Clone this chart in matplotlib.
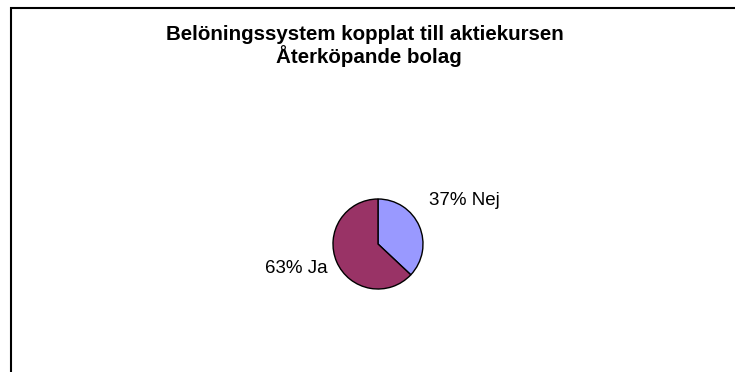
import matplotlib.pyplot as plt
from matplotlib.patches import Rectangle

plt.rcParams["font.family"] = ["Liberation Sans", "DejaVu Sans"]

categories = ["Nej", "Ja"]
shares = [37, 63]
colors = ["#9999FF", "#993366"]
title_lines = ["Belöningssystem kopplat till aktiekursen", "Återköpande bolag"]

W, H = 735, 372
fig = plt.figure(figsize=(W / 100, H / 100), dpi=100)
fig.patch.set_facecolor("white")

# chart frame, open to the right and bottom
fig.patches.append(Rectangle((10.5 / W, -0.1), 1.2, 1.1 - 7.5 / H,
                             transform=fig.transFigure, fill=False,
                             edgecolor="black", linewidth=1.5))

# title, two centred lines
fig.text(364.5 / W, 1 - 40 / H, title_lines[0], ha="center", va="baseline",
         fontsize=14.8, fontweight="bold")
fig.text(368.5 / W, 1 - 63 / H, title_lines[1], ha="center", va="baseline",
         fontsize=14.8, fontweight="bold")

# pie, radius 45 px centred at (378, 244)
cx, cy, r = 378, 244, 45
ax = fig.add_axes([(cx - r) / W, (H - cy - r) / H, 2 * r / W, 2 * r / H])
ax.pie(shares, colors=colors, startangle=90, counterclock=False,
       wedgeprops=dict(edgecolor="black", linewidth=1))
ax.set_xlim(-1, 1)
ax.set_ylim(-1, 1)

label_pos = [(1.91, 0.96), (-1.82, -0.55)]
for cat, val, (lx, ly) in zip(categories, shares, label_pos):
    ax.text(lx, ly, f"{val}% {cat}", ha="center", va="center",
            fontsize=13.5, clip_on=False)

fig.savefig("out.png", dpi=100)
